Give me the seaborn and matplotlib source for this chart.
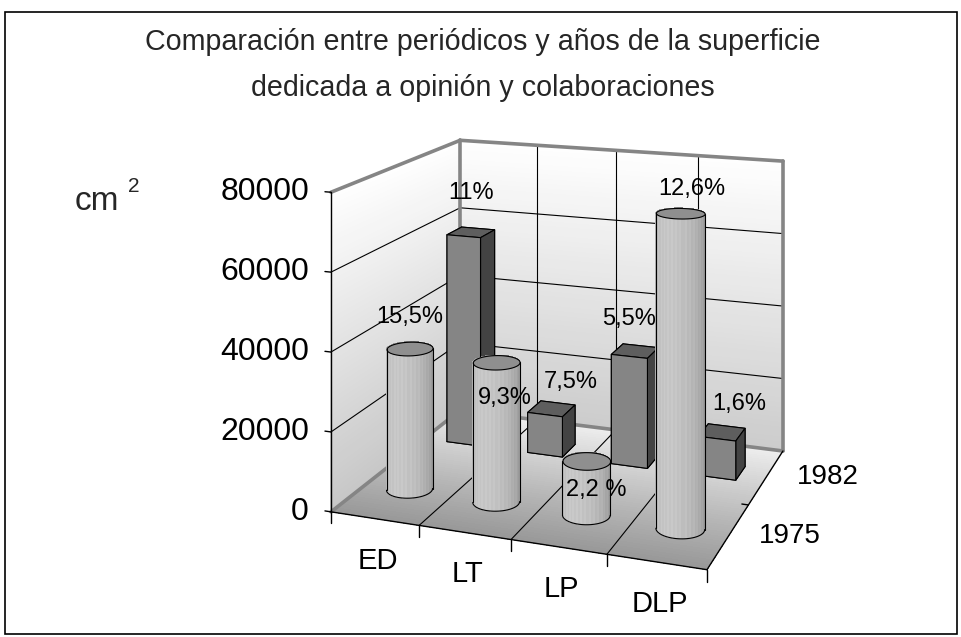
import numpy as np
import matplotlib
matplotlib.use("Agg")
import matplotlib.pyplot as plt
from matplotlib.patches import Rectangle
import seaborn as sns
from mpl_toolkits.mplot3d import proj3d
from mpl_toolkits.mplot3d.art3d import Poly3DCollection

# ---------------- data ----------------
categories = ["ED", "LT", "LP", "DLP"]
years = ["1975", "1982"]
area_1975 = [36500, 35500, 13500, 77000]
area_1982 = [58000, 11000, 29500, 10300]
pct_1975 = ["15,5%", "9,3%", "2,2 %", "12,6%"]
pct_1982 = ["11%", "7,5%", "5,5%", "1,6%"]
z_ticks = [0, 20000, 40000, 60000, 80000]
z_tick_labels = ["0", "20000", "40000", "60000", "80000"]
title_lines = ["Comparación entre periódicos y años de la superficie",
               "dedicada a opinión y colaboraciones"]

# ---------------- style / camera ----------------
off_1975 = [(0, 31), (9, -36), (10, -29), (12, 24)]     # label offsets (px)
off_1982 = [(0, 39), (19, 27), (-6, 32), (17, 28)]

sns.set_theme(style="white")
plt.rcParams["font.family"] = ["Liberation Sans", "DejaVu Sans"]

W, H = 962, 637
NX, NY, ZMAX = len(categories), len(years), 80000
PX, PD, PH = 4.25, 3.5, 3.5       # physical box: width, depth, height of ZMAX
EYE_H, EYE_D = 7.16, 18.8          # eye height above floor, eye distance to centre
FPX = 1633.0                       # focal length in pixels
PP = (568.0, -142.0)               # principal point (pixels from top-left)
AZIM, ELEV, ZOOM = -70, 0, 0.5
XS, YS = PX / NX, PD / NY
ZEXT = ZMAX * 2 * EYE_H / PH
ASPECT = np.array([PX, PD, 2 * EYE_H])
s_norm = 1.8294640721620434 * 25 / 24 * ZOOM / np.linalg.norm(ASPECT)
FOCAL = EYE_D * s_norm / 10
SIDE = FPX * 0.185 / FOCAL
anc = 0.095 / 0.185
RECT = [(PP[0] - anc * SIDE) / W, ((H - PP[1]) - anc * SIDE) / H, SIDE / W, SIDE / H]

RP = 0.26                          # cylinder radius (physical)
BW = 0.42                          # box width (x units)
BD = BW * XS / YS                  # box depth (y units)

fig = plt.figure(figsize=(W / 100, H / 100), dpi=100)


def setup(a):
    a.set_xlim(0, NX)
    a.set_ylim(0, NY)
    a.set_zlim(0, ZEXT)
    a.set_box_aspect(tuple(ASPECT), zoom=ZOOM)
    a.view_init(elev=ELEV, azim=AZIM)
    a.set_proj_type("persp", focal_length=FOCAL)
    a.set_axis_off()
    a.patch.set_visible(False)


def grad_colors(vals, shape):
    fc = np.ones(shape + (4,))
    fc[..., 0] = fc[..., 1] = fc[..., 2] = vals
    return fc


# ---------- background axes: walls, grid ----------
bg = fig.add_axes(RECT, projection="3d", computed_zorder=False)
n = 60
t = np.linspace(0, 1, n)
sk = dict(shade=False, linewidth=0, antialiased=False, rstride=1, cstride=1, zorder=1)
X, Z = np.meshgrid(np.linspace(0, NX, 2), np.linspace(0, ZMAX, n))
bg.plot_surface(X, np.full_like(X, NY), Z,
                facecolors=grad_colors((0.80 + 0.20 * t)[:, None], X.shape), **sk)
Yl, Zl = np.meshgrid(np.linspace(0, NY, 2), np.linspace(0, ZMAX, n))
bg.plot_surface(np.zeros_like(Yl), Yl, Zl,
                facecolors=grad_colors((0.78 + 0.22 * t)[:, None], Yl.shape), **sk)
Xf, Yf = np.meshgrid(np.linspace(0, NX, 2), np.linspace(0, NY, n))
bg.plot_surface(Xf, Yf, np.zeros_like(Xf),
                facecolors=grad_colors((0.60 + 0.34 * t)[:, None], Xf.shape), **sk)
grid_kw = dict(color="black", lw=0.8, zorder=2)
for z in z_ticks[1:-1]:
    bg.plot([0, NX], [NY, NY], [z, z], **grid_kw)
    bg.plot([0, 0], [0, NY], [z, z], **grid_kw)
for x in range(1, NX):
    bg.plot([x, x], [NY, NY], [0, ZMAX], **grid_kw)
    bg.plot([x, x], [0, NY], [0, 0], **grid_kw)
edge_kw = dict(color="#858585", lw=2.6, solid_capstyle="round", zorder=3)
bg.plot([0, NX], [NY, NY], [ZMAX, ZMAX], **edge_kw)
bg.plot([0, 0], [0, NY], [ZMAX, ZMAX], **edge_kw)
bg.plot([NX, NX], [NY, NY], [0, ZMAX], **edge_kw)
bg.plot([0, 0], [NY, NY], [0, ZMAX], **edge_kw)
bg.plot([0, 0], [0, NY], [0, 0], **edge_kw)
bg.plot([0, NX], [NY, NY], [0, 0], **edge_kw)
setup(bg)

# ---------- foreground axes: axis lines, bars ----------
ax = fig.add_axes(RECT, projection="3d", computed_zorder=False)
ax_kw = dict(color="black", lw=1.0, zorder=2)
ax.plot([0, NX], [0, 0], [0, 0], **ax_kw)
ax.plot([NX, NX], [0, NY], [0, 0], **ax_kw)
ax.plot([0, 0], [0, 0], [0, ZMAX], **ax_kw)
for x in range(NX + 1):
    ax.plot([x, x], [0, 0], [0, -0.035 * ZMAX], **ax_kw)
for yv in range(1, NY):
    ax.plot([NX, NX - 0.07], [yv, yv], [0, 0], **ax_kw)
for z in z_ticks:
    ax.plot([0, -0.07], [0, 0], [z, z], **ax_kw)

box_faces = ["#555555", "#5e5e5e", "#858585", "#555555", "#444444", "#434343"]
zo = 5
for i, v in enumerate(area_1982):
    ax.bar3d(i + 0.5 - BW / 2, 1.5 - BD / 2, 0, BW, BD, v, color=box_faces,
             shade=False, edgecolor="black", linewidth=0.8, zorder=zo)
    zo += 1

eye = np.array([PX / 2, PD / 2]) + EYE_D * np.array([np.cos(np.radians(AZIM)),
                                                    np.sin(np.radians(AZIM))])
th = np.linspace(0, 2 * np.pi, 73)
mid = np.append(th[:-1] + np.diff(th) / 2, th[-1])
for i, h in enumerate(area_1975):
    cx, cy = i + 0.5, 0.5
    cp = np.array([cx * XS, cy * YS])
    dvec = eye - cp
    phi = np.arctan2(dvec[1], dvec[0])
    half = np.arccos(RP / np.hypot(*dvec))
    inten = 0.63 + 0.14 * np.cos(mid - (phi - np.radians(30)))
    inten = inten + 0.02 * (np.arange(len(th)) % 2)
    Xc = cx + RP / XS * np.cos(th)
    Yc = cy + RP / YS * np.sin(th)
    XX = np.vstack([Xc, Xc])
    YY = np.vstack([Yc, Yc])
    ZZ = np.vstack([np.zeros_like(th), np.full_like(th, h)])
    ax.plot_surface(XX, YY, ZZ, facecolors=grad_colors(np.vstack([inten, inten]), XX.shape),
                    shade=False, linewidth=0, antialiased=False, rstride=1, cstride=1,
                    zorder=zo)
    cap = Poly3DCollection([list(zip(Xc, Yc, np.full_like(th, h)))],
                           facecolor="#8f8f8f", edgecolor="black", linewidth=0.8)
    cap.set_zorder(zo + 1)
    ax.add_collection3d(cap)
    for sgn in (-1, 1):
        a_s = phi + sgn * half
        ax.plot([cx + RP / XS * np.cos(a_s)] * 2, [cy + RP / YS * np.sin(a_s)] * 2, [0, h],
                color="black", lw=0.8, zorder=zo + 2)
    arc = np.linspace(phi - half, phi + half, 50)
    ax.plot(cx + RP / XS * np.cos(arc), cy + RP / YS * np.sin(arc), np.zeros_like(arc),
            color="black", lw=0.8, zorder=zo + 2)
    zo += 3

setup(ax)
M = ax.get_proj()


def proj(x, y, z):
    px, py, _ = proj3d.proj_transform(x, y, z, M)
    return px, py

lab_kw = dict(xycoords="data", textcoords="offset pixels", ha="center",
              va="center", zorder=100, color="black", annotation_clip=False)
for z, s in zip(z_ticks, z_tick_labels):
    ax.annotate(s, proj(0, 0, z), xytext=(-22, 0), fontsize=23,
                **{**lab_kw, "ha": "right"})
for i, (v, s) in enumerate(zip(area_1982, pct_1982)):
    ax.annotate(s, proj(i + 0.5, 1.5, v), xytext=off_1982[i], fontsize=17, **lab_kw)
for i, (v, s) in enumerate(zip(area_1975, pct_1975)):
    ax.annotate(s, proj(i + 0.5, 0.5, v), xytext=off_1975[i], fontsize=17, **lab_kw)
for i, c in enumerate(categories):
    ax.annotate(c, proj(i + 0.5, 0, 0), xytext=(3, -42), fontsize=21, **lab_kw)
for j, yv in enumerate(years):
    ax.annotate(yv, proj(NX, j + 0.5, 0), xytext=(61, 0), fontsize=20, **lab_kw)

# ---------- figure texts ----------
fig.text(483 / W, 1 - 50 / H, title_lines[0], ha="center", va="baseline", fontsize=20.6)
fig.text(483 / W, 1 - 96 / H, title_lines[1], ha="center", va="baseline", fontsize=20.6)
fig.text(75 / W, 1 - 210 / H, "cm", ha="left", va="baseline", fontsize=24)
fig.text(128 / W, 1 - 192 / H, "2", ha="left", va="baseline", fontsize=15)
fig.add_artist(Rectangle((5 / W, 3 / H), 952 / W, 622 / H, transform=fig.transFigure,
                         fill=False, edgecolor="black", linewidth=1.2))

fig.savefig("out.png", dpi=100)
